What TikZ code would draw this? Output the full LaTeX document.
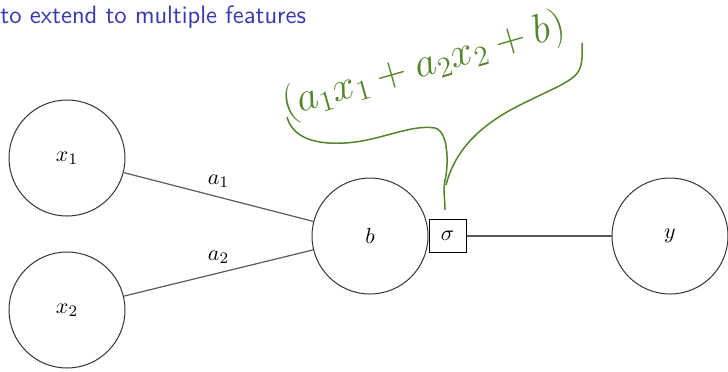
\documentclass[tikz,border=0pt]{standalone}
\usetikzlibrary{calc}
\definecolor{ttlblue}{RGB}{56,56,178}
\definecolor{inkgreen}{RGB}{83,133,42}
\definecolor{edgegray}{RGB}{90,90,90}
\begin{document}
\begin{tikzpicture}[x=0.5pt,y=-0.5pt,
  neuron/.style={circle,draw=black!80,line width=0.5pt,minimum size=58pt,inner sep=0pt,font=\fontsize{11}{13}\selectfont},
  edge/.style={draw=edgegray,line width=0.6pt},
  ink/.style={draw=inkgreen,line width=0.75pt},
  wlabel/.style={font=\fontsize{11}{13}\selectfont}]
\useasboundingbox (0,0) rectangle (728,371);
\node[anchor=west,inner sep=0pt,text=ttlblue,font=\sffamily\fontsize{12.6}{15}\selectfont] (title) at (0,17) {to extend to multiple features};
\node[neuron] (x1) at (67,158) {$x_1$};
\node[neuron] (x2) at (67,310) {$x_2$};
\node[neuron] (b) at (370,236) {$b$};
\node[neuron] (y) at (670,236) {$y$};
\node[draw=black,line width=0.5pt,minimum width=18.5pt,minimum height=16.5pt,inner sep=0pt,font=\fontsize{11}{13}\selectfont] (s) at (447.5,236) {$\sigma$};
\draw[edge] (x1) -- node[wlabel,above=1pt,pos=0.5] (a1) {$a_1$} (b);
\draw[edge] (x2) -- node[wlabel,above=1pt,pos=0.5] (a2) {$a_2$} (b);
\draw[edge] (s) -- (y);
\node[text=inkgreen,rotate=16,font=\fontsize{21}{24}\selectfont] (hw) at (424,66) {$\Bigl(a_1x_1+a_2x_2+b\Bigr)$};
\coordinate (tip) at (445,210);
\draw[ink] (287,117) .. controls (292,135) and (310,145) .. (345,143)
  .. controls (380,141) and (410,124) .. (435,128)
  .. controls (450,132) and (448,170) .. (445,180)
  .. controls (443,190) and (445,200) .. (tip);
\draw[ink] (446,185) .. controls (455,150) and (480,125) .. (520,105)
  .. controls (560,85) and (578,80) .. (581,65)
  .. controls (583,55) and (582,48) .. (582,43);
\end{tikzpicture}
\end{document}
